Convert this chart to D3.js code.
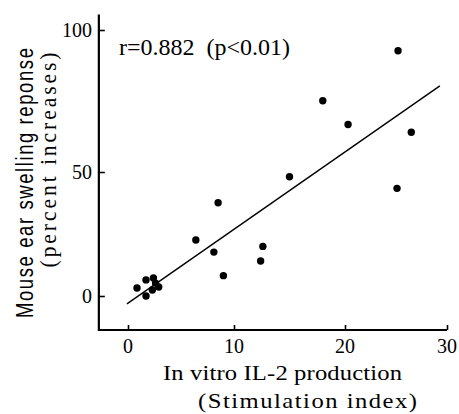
<!DOCTYPE html>
<html>
<head>
<meta charset="utf-8">
<script src="https://cdn.jsdelivr.net/npm/d3@7"></script>
<style>
  html, body { margin: 0; padding: 0; background: #fff; }
  svg { display: block; }
</style>
</head>
<body>
<svg id="chart" width="459" height="414"></svg>
<script>
// ---- data ----
const stimIndex = [25.2, 18.0, 20.3, 26.5, 15.0, 25.1, 8.5, 6.4, 8.1, 12.6, 12.4, 9.0,
                   0.85, 1.7, 2.4, 2.3, 2.9, 1.7, 2.6];
const earSwelling = [92.7, 75.1, 66.7, 64.0, 48.1, 43.4, 37.6, 22.6, 17.7, 20.0, 14.1, 8.2,
                     3.2, 6.5, 7.3, 2.4, 3.6, 0.0, 5.2];
const fitX = [-0.1, 29.3];
const fitY = [-3.2, 80.3];
const xTicks = [0, 10, 20, 30];
const yTicks = [0, 50, 100];
const annotation = "r=0.882\u00a0\u00a0(p<0.01)";
const xLabel1 = "In vitro IL-2 production";
const xLabel2 = "(Stimulation index)";
const yLabel1 = "Mouse ear swelling reponse";
const yLabel2 = "(percent increases)";

const serif = "'Liberation Serif', 'Times New Roman', serif";
const sans = "'Liberation Sans', Arial, sans-serif";

const svg = d3.select("#chart");

// scales (the printed figure's axes are slightly uneven; piecewise linear follows the ticks)
const x = d3.scaleLinear().domain([0, 10, 20, 30]).range([128, 234, 345, 447]);
const y = d3.scaleLinear().domain([0, 50, 100]).range([296, 172, 30]);

const xMin = -2.75, yMin = -13.7, yMax = 105.5;

// axes
const axisColor = "#000";
const xAxis = d3.axisBottom(x).tickValues(xTicks).tickSize(-5).tickFormat("");
const yAxis = d3.axisLeft(y).tickValues(yTicks).tickSize(-6).tickFormat("");

const gx = svg.append("g").attr("transform", `translate(0,${y(yMin)})`).call(xAxis);
gx.select(".domain").remove();
gx.selectAll(".tick line").attr("stroke", axisColor).attr("stroke-width", 1.6);
gx.append("line")
  .attr("x1", x(xMin)).attr("x2", x(30)).attr("y1", 0).attr("y2", 0)
  .attr("stroke", axisColor).attr("stroke-width", 2.2);

const gy = svg.append("g").attr("transform", `translate(${x(xMin)},0)`).call(yAxis);
gy.select(".domain").remove();
gy.selectAll(".tick line").attr("stroke", axisColor).attr("stroke-width", 1.6);
gy.append("line")
  .attr("x1", 0).attr("x2", 0).attr("y1", y(yMax)).attr("y2", y(yMin) + 1)
  .attr("stroke", axisColor).attr("stroke-width", 2.2);

// tick labels
svg.append("g").selectAll("text").data(xTicks).join("text")
  .attr("x", d => x(d)).attr("y", 353)
  .attr("text-anchor", "middle")
  .attr("font-family", serif).attr("font-size", 20)
  .text(d => d);

svg.append("g").selectAll("text").data(yTicks).join("text")
  .attr("x", 92).attr("y", d => y(d)).attr("dy", "0.34em")
  .attr("text-anchor", "end")
  .attr("font-family", serif).attr("font-size", 20)
  .text(d => d);

// regression line
svg.append("line")
  .attr("x1", x(fitX[0])).attr("y1", y(fitY[0]))
  .attr("x2", x(fitX[1])).attr("y2", y(fitY[1]))
  .attr("stroke", "#000").attr("stroke-width", 1.4);

// points
svg.append("g").selectAll("circle").data(stimIndex).join("circle")
  .attr("cx", d => x(d)).attr("cy", (d, i) => y(earSwelling[i]))
  .attr("r", 3.7).attr("fill", "#000");

// annotation
svg.append("text")
  .attr("x", 119).attr("y", 55)
  .attr("font-family", serif).attr("font-size", 24)
  .text(annotation);

// x labels (slightly wide lettering as in the print)
svg.append("text")
  .attr("transform", "translate(282.5,380) scale(1.12,1)")
  .attr("text-anchor", "middle")
  .attr("font-family", serif).attr("font-size", 22)
  .attr("textLength", 239 / 1.12).attr("lengthAdjust", "spacing")
  .text(xLabel1);
svg.append("text")
  .attr("transform", "translate(307.5,408) scale(1.12,1)")
  .attr("text-anchor", "middle")
  .attr("font-family", serif).attr("font-size", 22)
  .attr("textLength", 219 / 1.12).attr("lengthAdjust", "spacing")
  .text(xLabel2);

// y labels
svg.append("text")
  .attr("transform", "translate(33,183) scale(1.3,1) rotate(-90)")
  .attr("text-anchor", "middle")
  .attr("font-family", sans).attr("font-size", 18.5)
  .attr("textLength", 270).attr("lengthAdjust", "spacing")
  .text(yLabel1);
svg.append("text")
  .attr("transform", "translate(56,160) scale(1.1,1) rotate(-90)")
  .attr("text-anchor", "middle")
  .attr("font-family", serif).attr("font-size", 21.5)
  .attr("textLength", 215).attr("lengthAdjust", "spacing")
  .text(yLabel2);
</script>
</body>
</html>
